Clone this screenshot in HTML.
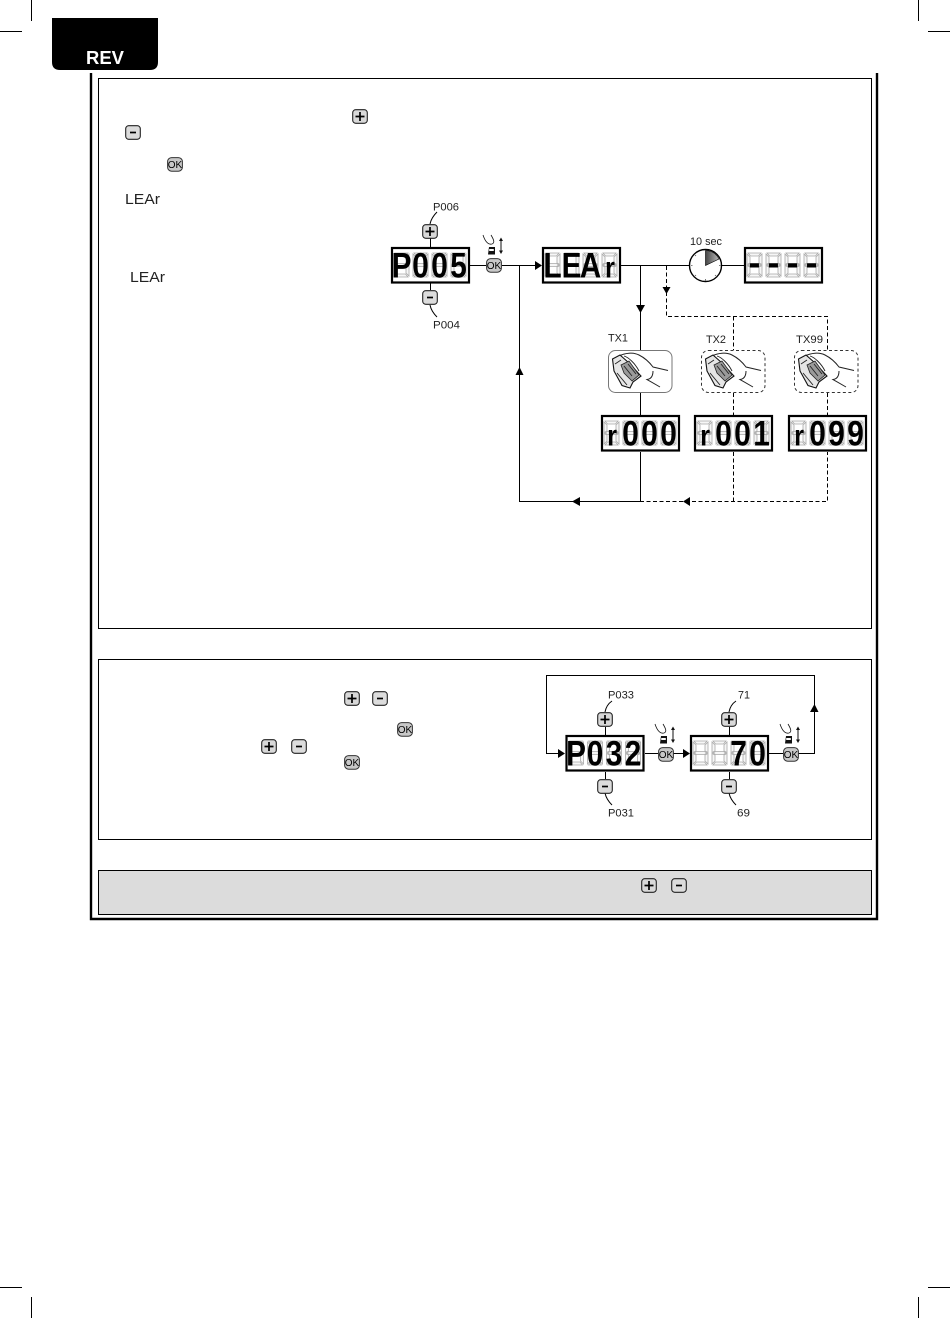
<!DOCTYPE html>
<html><head><meta charset="utf-8"><title>REV</title>
<style>
html,body{margin:0;padding:0;background:#fff}
svg{display:block}
.l{font:11px "Liberation Sans",sans-serif;fill:#222}
.d{font:bold 35px "Liberation Sans",sans-serif;fill:#000;text-anchor:middle}
.r{font:bold 30px "Liberation Sans",sans-serif;fill:#000;text-anchor:middle}
.ok{font:10px "Liberation Sans",sans-serif;fill:#000;text-anchor:middle}
</style></head><body>
<svg xmlns="http://www.w3.org/2000/svg" width="950" height="1318" viewBox="0 0 950 1318">
<defs>
<linearGradient id="w" x1="0" y1="0" x2="1" y2="0"><stop offset="0" stop-color="#444"/><stop offset="1" stop-color="#bbb"/></linearGradient>
<g id="gd" fill="#f6f6f6" stroke="#a8a8a8" stroke-width=".8">
<polygon points="1.500,0.500 14.500,0.500 12,3.500 4,3.500"/><polygon points="0.500,1.500 3.500,4.500 3.500,10.500 0.500,12"/><polygon points="15.500,1.500 12.500,4.500 12.500,10.500 15.500,12"/>
<polygon points="1.500,12.500 4,11 12,11 14.500,12.500 12,14 4,14"/>
<polygon points="0.500,13 3.500,14.500 3.500,20.500 0.500,23.500"/><polygon points="15.500,13 12.500,14.500 12.500,20.500 15.500,23.500"/><polygon points="1.500,24.500 14.500,24.500 12,21.500 4,21.500"/>
</g>
<g id="box"><rect x="1" y="1" width="77" height="34.500" fill="#fff" stroke="#000" stroke-width="2.200"/>
<use href="#gd" x="2.500" y="5.500"/><use href="#gd" x="21.500" y="5.500"/><use href="#gd" x="40.500" y="5.500"/><use href="#gd" x="59.500" y="5.500"/></g>
<g id="plus"><rect x=".7" y=".7" width="14.600" height="13.600" rx="3" fill="#d8d8d8" stroke="#222" stroke-width="1.100"/><path d="M3.500 7.500H12.500M8 3V12" stroke="#000" stroke-width="1.700" fill="none"/></g>
<g id="minus"><rect x=".7" y=".7" width="14.600" height="13.600" rx="3" fill="#dcdcdc" stroke="#222" stroke-width="1.100"/><path d="M5 7.500H11" stroke="#000" stroke-width="1.700" fill="none"/></g>
<rect id="okb" x=".6" y=".6" width="14.800" height="13.600" rx="4" fill="#c8c8c8" stroke="#333" stroke-width="1"/>
<g id="press" fill="none" stroke="#111"><path d="M-3 -23C-1 -17 2 -13 6 -14C9 -15 8 -18 5 -23" stroke-width=".8"/><path d="M3 -11H9V-3.500H2Z" fill="#111" stroke="none"/><rect x="3.200" y="-9" width="4.600" height="2" fill="#fff" stroke="none"/><path d="M15 -19.500V-5" stroke-width="1"/><path d="M13 -17L15 -20.500L17 -17ZM13 -7.500L15 -4L17 -7.500Z" fill="#111" stroke="none"/></g>
<g id="hand">
<path d="M10 5C16 2 24 1 30 4C36 7 41 12 44 16L59 19.500M44 20C44 25 42 28 38 28.500L51 36" fill="#fff" stroke="#222" stroke-width="1"/>
<path d="M3.500 8L11 4L20 12L32 25L24 31L21 37L13 34.500L5 20Z" fill="#e6e6e6" stroke="#111" stroke-width="1.100"/>
<path d="M12 14L20 10L30 24L23 30L15 22Z" fill="#9a9a9a" stroke="#222" stroke-width=".8"/>
<path d="M15 15L23 25M19 13L27 23M6 13L12 9M8 22L18 34" stroke="#222" stroke-width=".9" fill="none"/>
<path d="M15 5C19 6 26 12 30 20" fill="none" stroke="#222" stroke-width=".9"/>
</g>
</defs>

<rect width="950" height="1318" fill="#fff"/>
<!-- crop marks -->
<path d="M31.500 0V21M0 31.500H22M918.500 0V21M928 31.500H950M31.500 1297V1318M0 1287.500H22M918.500 1297V1318M928 1287.500H950" stroke="#000" stroke-width="1"/>
<!-- tab -->
<path d="M52 18H158V62Q158 70 150 70H60Q52 70 52 62Z" fill="#000"/>
<text x="86" y="64" font-family="Liberation Sans, sans-serif" font-weight="bold" font-size="18" fill="#fff" textLength="38" lengthAdjust="spacingAndGlyphs">REV</text>
<!-- frame -->
<path d="M91 73V919H877V73" fill="none" stroke="#000" stroke-width="2.400"/>
<rect x="98.500" y="78.500" width="773" height="550" fill="#fff" stroke="#000" stroke-width="1"/>
<rect x="98.500" y="659.500" width="773" height="180" fill="#fff" stroke="#000" stroke-width="1"/>
<rect x="98.500" y="870.500" width="773" height="44" fill="#dcdcdc" stroke="#000" stroke-width="1"/>

<!-- inline icons -->
<use href="#plus" x="352" y="109"/><use href="#minus" x="125" y="125"/>
<use href="#okb" x="167" y="157"/><text class="ok" x="175" y="168">OK</text>
<text class="l" x="125" y="204" style="font-size:15px" textLength="35" lengthAdjust="spacingAndGlyphs">LEAr</text>
<text class="l" x="130" y="282" style="font-size:15px" textLength="35" lengthAdjust="spacingAndGlyphs">LEAr</text>
<use href="#plus" x="344" y="691"/><use href="#minus" x="372" y="691"/>
<use href="#okb" x="397" y="722"/><text class="ok" x="405" y="733">OK</text>
<use href="#plus" x="261" y="739"/><use href="#minus" x="291" y="739"/>
<use href="#okb" x="344" y="755"/><text class="ok" x="352" y="766">OK</text>
<use href="#plus" x="641" y="878"/><use href="#minus" x="671" y="878"/>

<!-- diagram 1 solid lines -->
<g fill="none" stroke="#000" stroke-width="1">
<path d="M470 265.500H486M502 265.500H540M519.500 265.500V501.500H640M621 265.500H744M640.500 265.500V350M640.500 392V415M640.500 452V501.500"/>
<path d="M430.500 238V247M430.500 283V290M430 224C431 219 434 215 437 212M430 305C431 310 434 314 437 317"/>
</g>
<g fill="none" stroke="#000" stroke-width="1" stroke-dasharray="4 2.500">
<path d="M640 501.500H827.500V452M733.500 452V501.500M666.500 266V316.500H827.500V350M733.500 316.500V350M733.500 393V415M827.500 393V415"/>
</g>
<g fill="#000">
<polygon points="535,261 542,265.500 535,270"/><polygon points="636,305 645,305 640.500,313"/>
<polygon points="662.500,287 670.500,287 666.500,294"/><polygon points="515.500,375 523.500,375 519.500,367"/>
<polygon points="580,497 580,506 572,501.500"/><polygon points="690,497 690,506 683,501.500"/>
</g>
<!-- displays diagram 1 -->
<use href="#box" x="391" y="247"/><use href="#box" x="542" y="247"/><use href="#box" x="744" y="247"/>
<use href="#box" x="601" y="415"/><use href="#box" x="694" y="415"/><use href="#box" x="788" y="415"/>
<g transform="translate(391,277.500) scale(.85,1)"><text class="d" x="12.400 34.700 57.100 79.400">P005</text></g>
<g transform="translate(542,277.500) scale(.85,1)"><text class="d" x="12.400 34.700 57.100">LEA</text><text class="r" x="80">r</text></g>
<g transform="translate(744,277.500) scale(.85,1)"><g transform="scale(1.200,1)"><text class="d" y="-3" x="10.300 28.900 47.600 66.200">----</text></g></g>
<g transform="translate(601,445.500) scale(.85,1)"><text class="r" x="13">r</text><text class="d" x="34.700 57.100 79.400">000</text></g>
<g transform="translate(694,445.500) scale(.85,1)"><text class="r" x="13">r</text><text class="d" x="34.700 57.100 79.400">001</text></g>
<g transform="translate(788,445.500) scale(.85,1)"><text class="r" x="13">r</text><text class="d" x="34.700 57.100 79.400">099</text></g>

<!-- buttons diagram 1 -->
<use href="#plus" x="422" y="224"/><use href="#minus" x="422" y="290"/>
<use href="#okb" x="486" y="258"/><text class="ok" x="494" y="269">OK</text>
<use href="#press" x="486" y="258"/>
<text class="l" x="433" y="210.500" textLength="26" lengthAdjust="spacingAndGlyphs">P006</text>
<text class="l" x="433" y="328.500" textLength="27" lengthAdjust="spacingAndGlyphs">P004</text>

<!-- clock -->
<circle cx="705.500" cy="265.500" r="16" fill="#fff" stroke="#000" stroke-width="1.400"/>
<path d="M705.500 265.500V250.500A15 15 0 0 1 719 259Z" fill="url(#w)" stroke="#000" stroke-width=".6"/>
<path d="M705.500 279V280.500M691 265.500H692.500M695 255L696 256M695 276L696 275M716 276L715 275M719 265.500H720.500" stroke="#555" stroke-width=".8"/>
<text class="l" x="690" y="245" textLength="32" lengthAdjust="spacingAndGlyphs">10 sec</text>

<!-- remotes -->
<text class="l" x="608" y="341.500" textLength="20" lengthAdjust="spacingAndGlyphs">TX1</text>
<text class="l" x="706" y="343" textLength="20" lengthAdjust="spacingAndGlyphs">TX2</text>
<text class="l" x="796" y="343" textLength="27" lengthAdjust="spacingAndGlyphs">TX99</text>
<rect x="608.500" y="350.500" width="63.500" height="42" rx="7" fill="#fff" stroke="#777" stroke-width="1"/>
<rect x="701.500" y="350.500" width="63.500" height="42" rx="7" fill="#fff" stroke="#333" stroke-width="1" stroke-dasharray="3 2.500"/>
<rect x="794.500" y="350.500" width="63.500" height="42" rx="7" fill="#fff" stroke="#333" stroke-width="1" stroke-dasharray="3 2.500"/>
<use href="#hand" x="609" y="351"/><use href="#hand" x="702" y="351"/><use href="#hand" x="795" y="351"/>

<!-- diagram 2 -->
<g fill="none" stroke="#000" stroke-width="1">
<path d="M558 753.500H546.500V675.500H814.500V753.500H798M783 753.500H769M645 753.500H658M673 753.500H684"/>
<path d="M605.500 727V735M605.500 772V779M729.500 727V735M729.500 772V779"/>
<path d="M605 712C606 707 609 703 612 701M605 793C606 798 609 802 612 805M729 712C730 707 733 703 736 701M729 793C730 798 733 802 736 805"/>
</g>
<g fill="#000">
<polygon points="558,749 565,753.500 558,758"/><polygon points="683,749 690,753.500 683,758"/>
<polygon points="810,712 818.500,712 814.500,704"/>
</g>
<use href="#box" x="565.500" y="735"/><use href="#box" x="690" y="735"/>
<g transform="translate(565.500,765.500) scale(.85,1)"><text class="d" x="12.400 34.700 57.100 79.400">P032</text></g>
<g transform="translate(690,765.500) scale(.85,1)"><text class="d" x="57.100 79.400">70</text></g>
<use href="#plus" x="597" y="712"/><use href="#minus" x="597" y="779"/>
<use href="#plus" x="721" y="712"/><use href="#minus" x="721" y="779"/>
<use href="#okb" x="658" y="747"/><text class="ok" x="666" y="758">OK</text>
<use href="#okb" x="783" y="747"/><text class="ok" x="791" y="758">OK</text>
<use href="#press" x="658" y="747"/><use href="#press" x="783" y="747"/>
<text class="l" x="608" y="698.500" textLength="26" lengthAdjust="spacingAndGlyphs">P033</text>
<text class="l" x="608" y="816.500" textLength="26" lengthAdjust="spacingAndGlyphs">P031</text>
<text class="l" x="738" y="698.500" textLength="12" lengthAdjust="spacingAndGlyphs">71</text>
<text class="l" x="737" y="816.500" textLength="13" lengthAdjust="spacingAndGlyphs">69</text>
</svg>
</body></html>
